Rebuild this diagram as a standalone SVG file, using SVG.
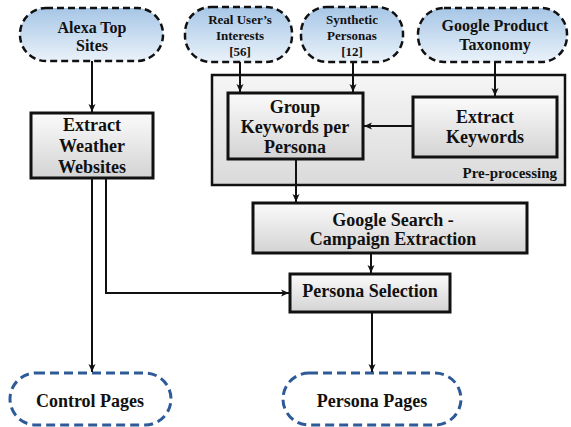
<svg xmlns="http://www.w3.org/2000/svg" width="571" height="427" viewBox="0 0 571 427">
<style>
text{font-weight:bold;fill:#111;text-anchor:middle}
.src{fill:url(#blue);stroke:#111;stroke-width:2.5;stroke-dasharray:7 4}
.out{fill:#fff;stroke:#2e5a98;stroke-width:3;stroke-dasharray:9 5}
.box{fill:url(#gray);stroke:#111;stroke-width:3}
.cont{fill:url(#lgray);stroke:#111;stroke-width:2.5}
.c{fill:none;stroke:#111;stroke-width:2;marker-end:url(#ah)}
.t16{font-size:16px}.t13{font-size:13px}.t18{font-size:18px}.t15{font-size:15px}
</style>
<defs>
<linearGradient id="blue" x1="0" y1="0" x2="0" y2="1"><stop offset="0" stop-color="#a6c6e6"/><stop offset="1" stop-color="#eaf2fa"/></linearGradient>
<linearGradient id="gray" x1="0" y1="0" x2="0" y2="1"><stop offset="0" stop-color="#fbfbfb"/><stop offset="1" stop-color="#d3d3d3"/></linearGradient>
<linearGradient id="lgray" x1="0" y1="0" x2="0" y2="1"><stop offset="0" stop-color="#f6f6f6"/><stop offset="1" stop-color="#dadada"/></linearGradient>
<marker id="ah" markerUnits="userSpaceOnUse" markerWidth="9" markerHeight="8" refX="8" refY="4" orient="auto"><path d="M0,0.5 L8,4 L0,7.5 L2,4 Z" fill="#111"/></marker>
</defs>
<g font-family="'Liberation Serif', 'DejaVu Serif', serif">
<g id="preprocessing">
<rect class="cont" x="212" y="75" width="353" height="110"/>
<text class="t15" x="557" y="178" style="text-anchor:end">Pre-processing</text>
</g>
<g id="alexa">
<rect class="src" x="20" y="8" width="143" height="53" rx="26"/>
<text class="t16" x="92" y="33">Alexa Top</text>
<text class="t16" x="92" y="51">Sites</text>
</g>
<g id="real-users">
<rect class="src" x="185" y="7" width="107" height="55" rx="26"/>
<text class="t13" x="240" y="24">Real User’s</text>
<text class="t13" x="240" y="40">Interests</text>
<text class="t13" x="240" y="56">[56]</text>
</g>
<g id="synthetic">
<rect class="src" x="301" y="7" width="102" height="55" rx="26"/>
<text class="t13" x="352" y="24">Synthetic</text>
<text class="t13" x="352" y="40">Personas</text>
<text class="t13" x="352" y="56">[12]</text>
</g>
<g id="taxonomy">
<rect class="src" x="418" y="8" width="149" height="54" rx="26"/>
<text class="t16" x="495" y="31">Google Product</text>
<text class="t16" x="495" y="50">Taxonomy</text>
</g>
<g id="extract-weather">
<rect class="box" x="31" y="113" width="122" height="65"/>
<text class="t18" x="92" y="131">Extract</text>
<text class="t18" x="92" y="152">Weather</text>
<text class="t18" x="92" y="173">Websites</text>
</g>
<g id="group-keywords">
<rect class="box" x="228" y="93" width="135" height="66"/>
<text class="t18" x="295" y="113">Group</text>
<text class="t18" x="295" y="133">Keywords per</text>
<text class="t18" x="295" y="153">Persona</text>
</g>
<g id="extract-keywords">
<rect class="box" x="413" y="97" width="144" height="60"/>
<text class="t18" x="485" y="123">Extract</text>
<text class="t18" x="485" y="143">Keywords</text>
</g>
<g id="google-search">
<rect class="box" x="253" y="203" width="274" height="50"/>
<text class="t18" x="393" y="226">Google Search -</text>
<text class="t18" x="393" y="245">Campaign Extraction</text>
</g>
<g id="persona-selection">
<rect class="box" x="290" y="274" width="160" height="38"/>
<text class="t18" x="370" y="297">Persona Selection</text>
</g>
<g id="control-pages">
<rect class="out" x="10" y="373" width="161" height="52" rx="26"/>
<text class="t18" x="90" y="407">Control Pages</text>
</g>
<g id="persona-pages">
<rect class="out" x="283" y="373" width="178" height="52" rx="26"/>
<text class="t18" x="372" y="407">Persona Pages</text>
</g>
</g>
<g id="connectors">
<path class="c" d="M92,61 V112"/>
<path class="c" d="M92,178 V372"/>
<path class="c" d="M106,178 V293 H289"/>
<path class="c" d="M240,62 V92"/>
<path class="c" d="M353,62 V92"/>
<path class="c" d="M495,62 V96"/>
<path class="c" d="M413,126 H364"/>
<path class="c" d="M296,159 V202"/>
<path class="c" d="M371,253 V273"/>
<path class="c" d="M372,312 V372"/>
</g>
</svg>
